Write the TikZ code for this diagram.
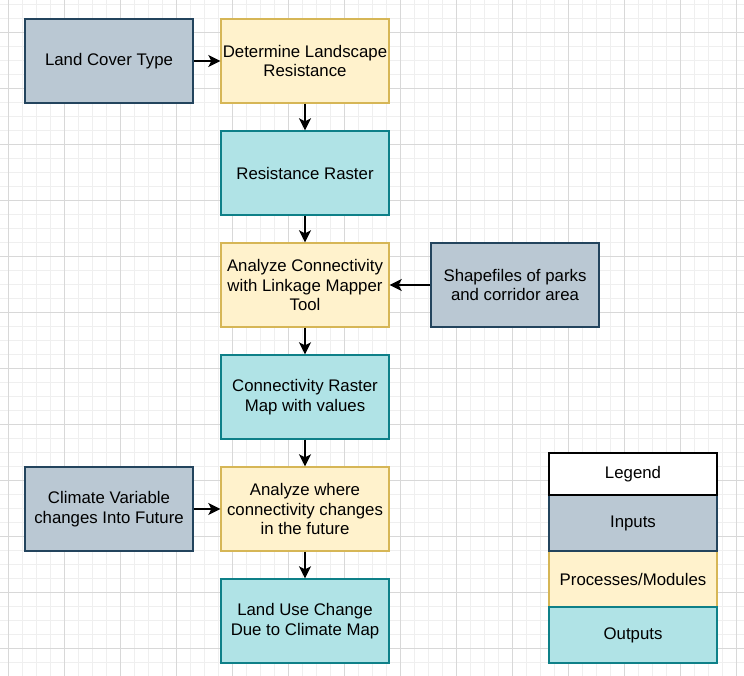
\documentclass[tikz,border=0pt]{standalone}
\usepackage{fontspec}
\setmainfont{Liberation Sans}
\usetikzlibrary{arrows.meta}
\definecolor{inpfill}{HTML}{BAC8D3}
\definecolor{inpline}{HTML}{23445D}
\definecolor{procfill}{HTML}{FFF2CC}
\definecolor{procline}{HTML}{D6B656}
\definecolor{outfill}{HTML}{B0E3E6}
\definecolor{outline}{HTML}{0E8088}
\definecolor{gridminor}{HTML}{EFEFEF}
\definecolor{gridmajor}{HTML}{D8D8D8}

\begin{document}
\begin{tikzpicture}[x=1pt,y=-1pt,
	box/.style={draw,line width=1.4pt,minimum width=168pt,minimum height=84pt,align=center,inner sep=0pt,font=\fontsize{16.8}{19.5}\selectfont},
	inbox/.style={box,fill=inpfill,draw=inpline},
	procbox/.style={box,fill=procfill,draw=procline},
	outbox/.style={box,fill=outfill,draw=outline},
	flow/.style={-{Stealth[length=12pt,width=12pt,inset=3pt]},line width=1.4pt}]
	\useasboundingbox (0,0) rectangle (744,676);
	\fill[white] (0,0) rectangle (744,676);
	
	%GRID
	\foreach \x in {8,22,...,736} \draw[gridminor,line width=0.8pt] (\x,0)--(\x,676);
	\foreach \y in {4,18,...,676} \draw[gridminor,line width=0.8pt] (0,\y)--(744,\y);
	\foreach \x in {8,64,...,736} \draw[gridmajor,line width=0.9pt] (\x,0)--(\x,676);
	\foreach \y in {32,88,...,648} \draw[gridmajor,line width=0.9pt] (0,\y)--(744,\y);
	
	%INPUTS
	\node[inbox] (landcover) at (109,61) {Land Cover Type};
	\node[inbox] (shapefiles) at (515,285) {Shapefiles of parks\\and corridor area};
	\node[inbox] (climate) at (109,509) {Climate Variable\\changes Into Future};
	
	%PROCESSES
	\node[procbox] (landres) at (305,61) {Determine Landscape\\Resistance};
	\node[procbox] (connect) at (305,285) {Analyze Connectivity\\with Linkage Mapper\\Tool};
	\node[procbox] (future) at (305,509) {Analyze where\\connectivity changes\\in the future};
	
	%OUTPUTS
	\node[outbox] (resraster) at (305,173) {Resistance Raster};
	\node[outbox] (connraster) at (305,397) {Connectivity Raster\\Map with values};
	\node[outbox] (landuse) at (305,621) {Land Use Change\\Due to Climate Map};
	
	%ARROWS
	\draw[flow] (landcover)--(landres);
	\draw[flow] (landres)--(resraster);
	\draw[flow] (resraster)--(connect);
	\draw[flow] (shapefiles)--(connect);
	\draw[flow] (connect)--(connraster);
	\draw[flow] (connraster)--(future);
	\draw[flow] (climate)--(future);
	\draw[flow] (future)--(landuse);
	
	%LEGEND
	\node[procbox,minimum height=56pt] (legproc) at (633,579) {Processes/Modules};
	\node[outbox,minimum height=56pt] (legout) at (633,635) {Outputs};
	\node[inbox,minimum height=56pt] (leginp) at (633,523) {Inputs};
	\node[box,fill=white,draw=black,minimum height=42pt] (legend) at (633,474) {Legend};
\end{tikzpicture}
\end{document}
